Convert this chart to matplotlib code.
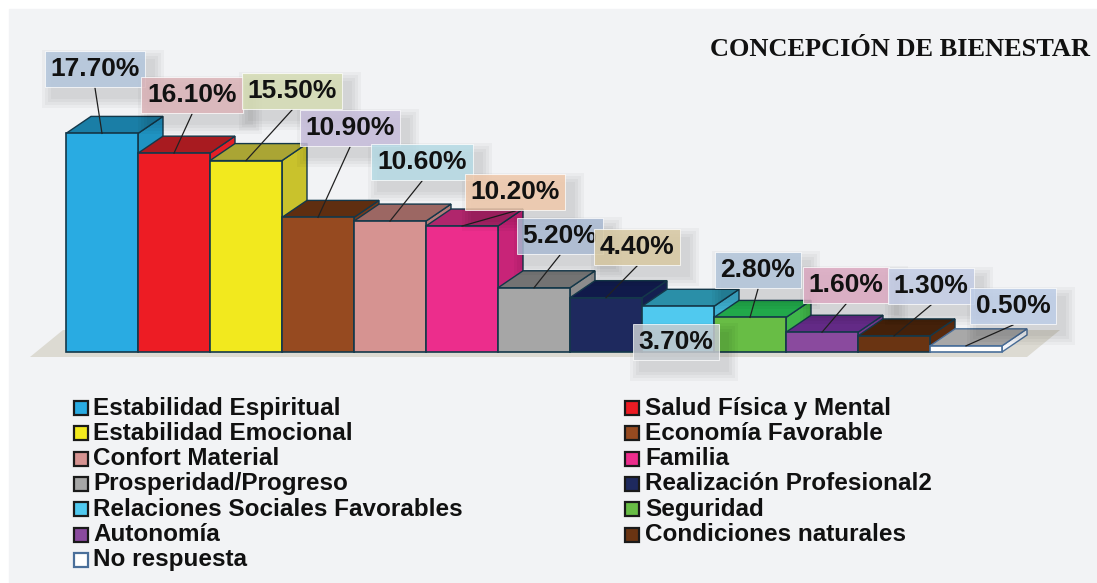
import matplotlib
matplotlib.use('Agg')
import matplotlib.pyplot as plt
from matplotlib.patches import Polygon, Rectangle
from matplotlib import colors as mcolors
import numpy as np

# data
categories = ['Estabilidad Espiritual', 'Salud Física y Mental', 'Estabilidad Emocional',
              'Economía Favorable', 'Confort Material', 'Familia', 'Prosperidad/Progreso',
              'Realización Profesional2', 'Relaciones Sociales Favorables', 'Seguridad',
              'Autonomía', 'Condiciones naturales', 'No respuesta']
values = [17.7, 16.1, 15.5, 10.9, 10.6, 10.2, 5.2, 4.4, 3.7, 2.8, 1.6, 1.3, 0.5]
value_labels = ['%.2f%%' % v for v in values]

bar_colors = ['#29abe2', '#ed1c24', '#f2e91e', '#964a20', '#d69391', '#ec2d8c', '#a6a6a6',
              '#1e295e', '#50c9ef', '#68bd45', '#8a4a9e', '#6a3412', '#ffffff']
top_colors = ['#1a7ea6', '#a81b20', '#aaa534', '#5f2e10', '#9c6763', '#b0266c', '#737373',
              '#101a4a', '#2a8fa8', '#21a84a', '#632a86', '#44210a', '#a8a8a8']
side_colors = ['#1f93c2', '#e41f26', '#c9c22c', '#7a3a18', '#b57a78', '#c82478', '#8c8c8c',
               '#141f50', '#3eb1d2', '#3fb54a', '#76388f', '#582a0e', '#f4f6fa']
edge_colors = ['#14384a'] * 12 + ['#4a6f9a']
box_colors = ['#b4c6dc', '#dcb4b8', '#d6ddb4', '#c8bedc', '#b6dbe5', '#f0c9ab', '#a9b9d2',
              '#d8c9a2', '#c9cdd2', '#b2c5da', '#dca9c1', '#c4cde6', '#bdcde7']

# layout (pixels in a 1097x583 image)
W, H = 1097, 583
label_pos = [(95, 69), (192, 95), (292, 91), (350, 128), (422, 162), (515, 192), (560, 236),
             (637, 247), (676, 342), (758, 270), (846, 285), (931, 286), (1013, 306)]
x0_px, bar_px, base_px, pct_px = 66, 72, 352, 12.35

fig = plt.figure(figsize=(W / 100, H / 100), dpi=100)
fig.patch.set_facecolor('white')
fig.add_artist(Rectangle((9 / W, 0), 1 - 9 / W, 1 - 9 / H, transform=fig.transFigure,
                         color='#f2f3f5', zorder=-10))

ax = fig.add_axes([0, 0, 1, 1])
ax.axis('off')
ax.set_xlim(-x0_px / bar_px, (W - x0_px) / bar_px)
ax.set_ylim(-(H - base_px) / pct_px, base_px / pct_px)

def px2data(px, py):
    return (px - x0_px) / bar_px, (base_px - py) / pct_px

dx, dy = 25 / bar_px, 17 / pct_px

# floor
fx0, fy0 = px2data(30, 357)
fx1, _ = px2data(1027, 357)
fx2, fy2 = px2data(1060, 330)
fx3, _ = px2data(63, 330)
ax.add_patch(Polygon([(fx0, fy0), (fx1, fy0), (fx2, fy2), (fx3, fy2)], closed=True,
                     fc='#dcdad2', ec='none', zorder=1))

# 3d bars
for i, v in enumerate(values):
    z = 2 + i * 0.1
    ec = edge_colors[i]
    side = [(i + 1, 0), (i + 1 + dx, dy), (i + 1 + dx, v + dy), (i + 1, v)]
    top = [(i, v), (i + 1, v), (i + 1 + dx, v + dy), (i + dx, v + dy)]
    ax.add_patch(Polygon(side, closed=True, fc=side_colors[i], ec=ec, lw=1, zorder=z))
    ax.add_patch(Polygon(top, closed=True, fc=top_colors[i], ec=ec, lw=1, zorder=z + 0.01))
    ax.add_patch(Rectangle((i, 0), 1, v, fc=bar_colors[i], ec=ec, lw=1.2, zorder=z + 0.02))

# value labels and leader lines
label_texts = []
for i, (v, txt, bc, (px, py)) in enumerate(zip(values, value_labels, box_colors, label_pos)):
    t = fig.text(px / W, 1 - py / H, txt, fontsize=19, weight='bold', family='Liberation Sans',
                 color='#111111', ha='center', va='center', zorder=6,
                 bbox=dict(boxstyle='square,pad=0.22', fc=bc, ec='white', lw=0.6, alpha=0.85))
    label_texts.append(t)
    if i != 8:
        sx, sy = px2data(px, py + 19)
        ax.plot([sx, i + 0.5], [sy, v], color='#222222', lw=0.9, zorder=4)

# soft drop shadows behind the label boxes
fig.canvas.draw()
for t in label_texts:
    bb = t.get_bbox_patch().get_window_extent()
    for k in range(4):
        g = 2 + 3 * k
        fig.add_artist(Rectangle(((bb.x0 + 8 - g) / W, (bb.y0 - 10 - g) / H),
                                 (bb.width + 2 * g) / W, (bb.height + 2 * g) / H,
                                 transform=fig.transFigure, fc='black', ec='none',
                                 alpha=0.03, zorder=5))

# title
fig.text(1090 / W, 1 - 56 / H, 'CONCEPCIÓN DE BIENESTAR', ha='right', va='baseline',
         fontsize=19, weight='bold', family='Liberation Serif', color='#111111')

# legend, two columns filled row by row
marker_x = [74, 625]
text_x = [93, 645]
for idx, cat in enumerate(categories):
    r, c = divmod(idx, 2)
    y = 408 + 25.3 * r
    fig.add_artist(Rectangle((marker_x[c] / W, 1 - (y + 7) / H), 14 / W, 14 / H,
                             transform=fig.transFigure, fc=bar_colors[idx],
                             ec='#1a1a1a' if idx < 12 else '#4a6f9a', lw=1.6))
    fig.text(text_x[c] / W, 1 - y / H, cat, va='center', ha='left', fontsize=17.5,
             weight='bold', family='Liberation Sans', color='#111111')

fig.savefig('out.png', dpi=100, facecolor=fig.get_facecolor())
